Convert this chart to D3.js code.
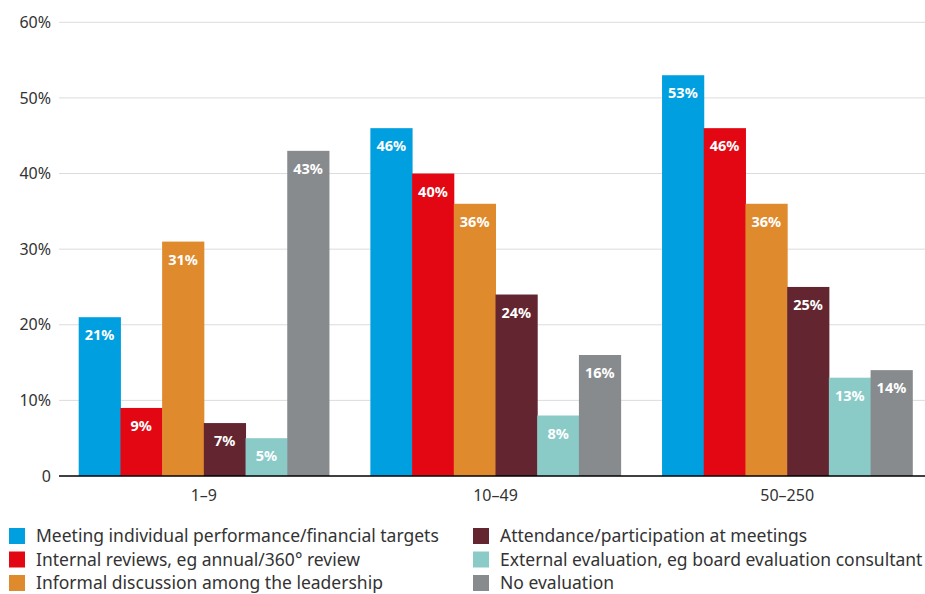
<!DOCTYPE html>
<html>
<head>
<meta charset="utf-8">
<script src="https://cdn.jsdelivr.net/npm/d3@7"></script>
<style>
  body { margin: 0; background: #fff; }
  svg { font-family: "Noto Sans", Lato, sans-serif; }
</style>
</head>
<body>
<div id="chart"></div>
<script>
// data
var groups = ["1–9", "10–49", "50–250"];
var seriesNames = [
    "Meeting individual performance/financial targets",
    "Internal reviews, eg annual/360° review",
    "Informal discussion among the leadership",
    "Attendance/participation at meetings",
    "External evaluation, eg board evaluation consultant",
    "No evaluation"
];
var seriesColors = ["#009fdf", "#e30613", "#e08a2e", "#632530", "#8acbc8", "#878b8e"];
var values = [
    [21, 46, 53],
    [9, 40, 46],
    [31, 36, 36],
    [7, 24, 25],
    [5, 8, 13],
    [43, 16, 14]
];
var yTicks = [0, 10, 20, 30, 40, 50, 60];

var width = 925, height = 594;
var svg = d3.select("#chart").append("svg")
    .attr("width", width)
    .attr("height", height);

// scales
var x0 = d3.scaleBand()
    .domain(groups)
    .range([58, 933])
    .paddingInner(0.142)
    .paddingOuter(0.071);

var x1 = d3.scaleBand()
    .domain(d3.range(seriesNames.length))
    .range([0, x0.bandwidth()]);

var y = d3.scaleLinear()
    .domain([0, 60])
    .range([476, 22.3]);

// gridlines
svg.append("g")
    .selectAll("line")
    .data(yTicks.slice(1))
    .enter().append("line")
    .attr("x1", 59)
    .attr("x2", width)
    .attr("y1", function (d) { return y(d); })
    .attr("y2", function (d) { return y(d); })
    .attr("stroke", "#dcdcdc")
    .attr("stroke-width", 1);

// y labels
svg.append("g")
    .selectAll("text")
    .data(yTicks)
    .enter().append("text")
    .attr("x", 51)
    .attr("y", function (d) { return y(d); })
    .attr("dy", "0.35em")
    .attr("text-anchor", "end")
    .attr("font-size", 16)
    .attr("fill", "#333")
    .text(function (d) { return d === 0 ? "0" : d + "%"; });

// bars
var rows = [];
values.forEach(function (vals, s) {
    vals.forEach(function (v, g) {
        rows.push({ s: s, g: groups[g], v: v });
    });
});

svg.append("g")
    .selectAll("rect")
    .data(rows)
    .enter().append("rect")
    .attr("x", function (d) { return x0(d.g) + x1(d.s); })
    .attr("y", function (d) { return y(d.v); })
    .attr("width", x1.bandwidth() + 0.5)
    .attr("height", function (d) { return y(0) - y(d.v); })
    .attr("fill", function (d) { return seriesColors[d.s]; });

// value labels
svg.append("g")
    .selectAll("text")
    .data(rows)
    .enter().append("text")
    .attr("x", function (d) { return x0(d.g) + x1(d.s) + x1.bandwidth() / 2; })
    .attr("y", function (d) { return y(d.v) + 18; })
    .attr("dy", "0.35em")
    .attr("text-anchor", "middle")
    .attr("font-size", 14.5)
    .attr("font-weight", "bold")
    .attr("fill", "#fff")
    .text(function (d) { return d.v + "%"; });

// x axis
var xAxis = svg.append("g")
    .attr("transform", "translate(0," + y(0) + ")")
    .call(d3.axisBottom(x0).tickSize(0).tickPadding(14));
xAxis.select(".domain").remove();
xAxis.append("line")
    .attr("x1", 59).attr("x2", width)
    .attr("stroke", "#000").attr("stroke-width", 1.5);
xAxis.selectAll("text")
    .attr("font-family", "'Noto Sans', Lato, sans-serif")
    .attr("font-size", 16)
    .attr("fill", "#333");

// legend
var legend = svg.append("g")
    .selectAll("g")
    .data(seriesNames)
    .enter().append("g")
    .attr("transform", function (d, i) {
        var col = Math.floor(i / 3), row = i % 3;
        return "translate(" + (col === 0 ? 9 : 473) + "," + (528 + row * 23.5) + ")";
    });

legend.append("rect")
    .attr("width", 16)
    .attr("height", 16)
    .attr("fill", function (d, i) { return seriesColors[i]; });

legend.append("text")
    .attr("x", 27)
    .attr("y", 8)
    .attr("dy", "0.35em")
    .attr("font-size", 17.5)
    .attr("fill", "#333")
    .text(function (d) { return d; });
</script>
</body>
</html>
